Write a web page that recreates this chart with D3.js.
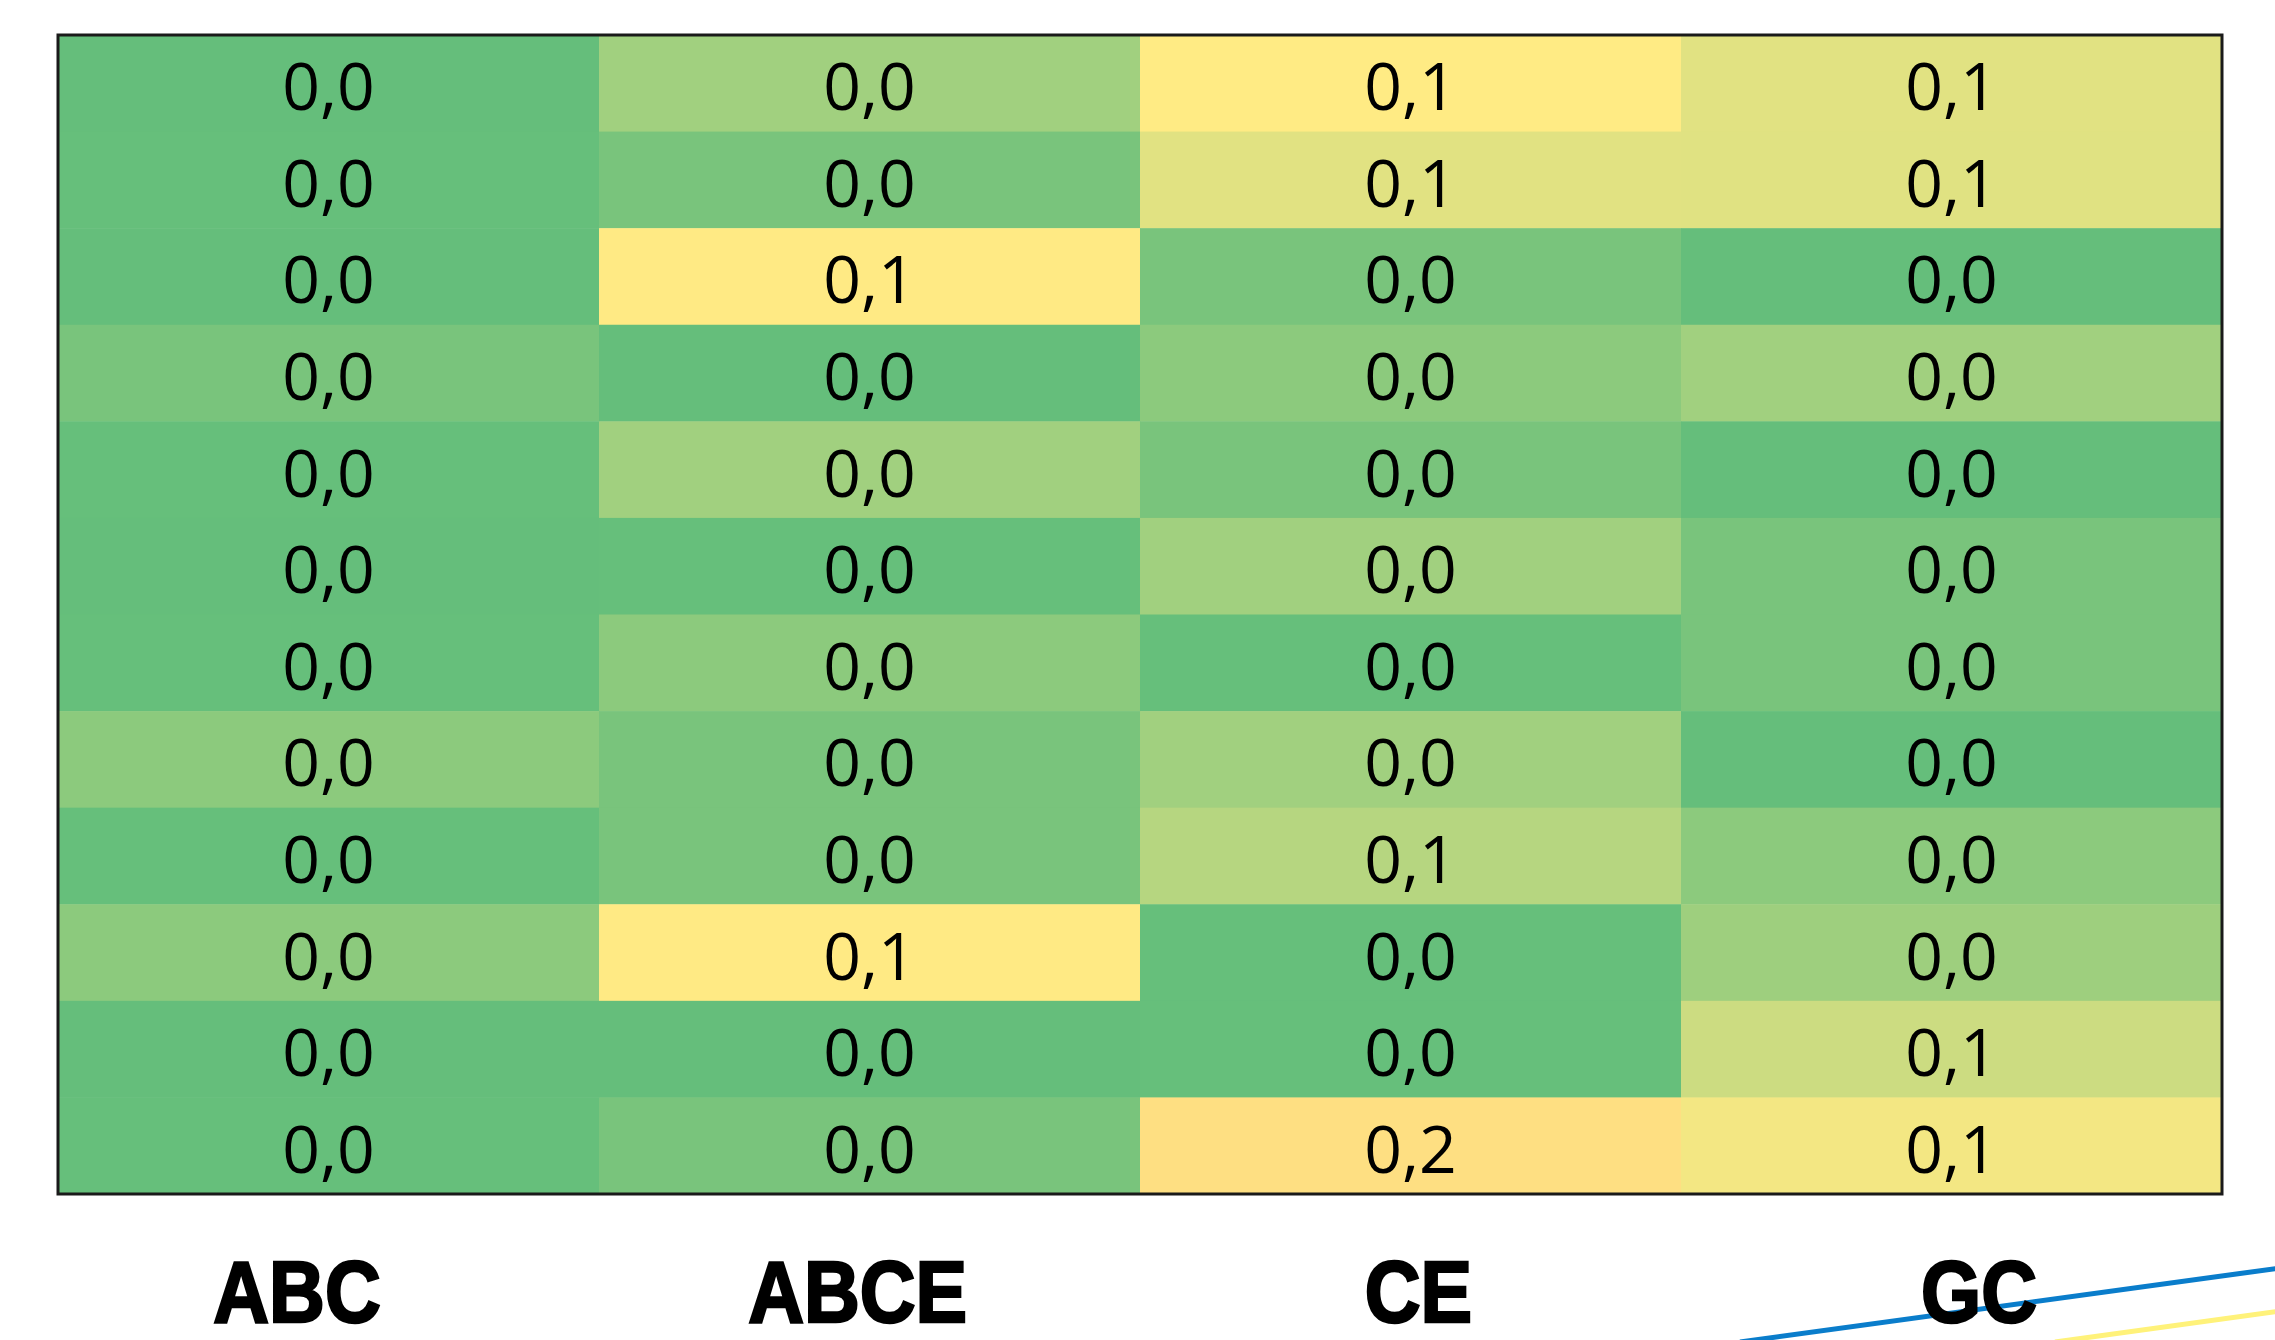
<!DOCTYPE html>
<html>
<head>
<meta charset="utf-8">
<script src="https://cdn.jsdelivr.net/npm/d3@7"></script>
<style>
  html, body { margin: 0; padding: 0; background: #fff; }
  svg { display: block; }
  .cell-label { font-family: "Open Sans", sans-serif; font-size: 66px; fill: #000; }
  .col-label { font-family: "Liberation Sans", Arial, sans-serif; font-weight: bold; font-size: 84px; fill: #000; stroke: #000; stroke-width: 2.5px; }
</style>
</head>
<body>
<script>
// columns and row count
var columns = ['ABC', 'ABCE', 'CE', 'GC']
var rows = d3.range(1, 13)

// underlying values per column (shown rounded to one decimal)
var abc  = [0.001, 0.002, 0.001, 0.014, 0.002, 0.001, 0.002, 0.026, 0.002, 0.026, 0.001, 0.002]
var abce = [0.040, 0.014, 0.105, 0.001, 0.040, 0.002, 0.026, 0.014, 0.014, 0.104, 0.001, 0.014]
var ce   = [0.102, 0.081, 0.014, 0.026, 0.014, 0.040, 0.002, 0.040, 0.053, 0.002, 0.002, 0.180]
var gc   = [0.081, 0.080, 0.001, 0.040, 0.001, 0.014, 0.014, 0.001, 0.026, 0.038, 0.067, 0.092]

var series = { ABC: abc, ABCE: abce, CE: ce, GC: gc }

var W = 2275, H = 1340
var svg = d3.select('body').append('svg')
    .attr('width', W)
    .attr('height', H)

var x = d3.scaleBand().domain(columns).range([58, 2222])
var y = d3.scaleBand().domain(rows).range([35, 1194])

// excel style green - yellow - red scale
var color = d3.scaleLinear()
    .domain([0, 0.1, 1])
    .range(['#63BE7B', '#FFEB84', '#F8696B'])
    .clamp(true)

var fmt = function(v) { return d3.format('.1f')(v).replace('.', ',') }

var cells = []
columns.forEach(function(c) {
  series[c].forEach(function(v, i) {
    cells.push({ col: c, row: rows[i], value: v })
  })
})

var g = svg.append('g')

g.selectAll('rect.cell')
  .data(cells)
  .enter().append('rect')
    .attr('class', 'cell')
    .attr('x', d => x(d.col))
    .attr('y', d => y(d.row))
    .attr('width', x.bandwidth() + 0.5)
    .attr('height', y.bandwidth() + 0.5)
    .attr('fill', d => color(d.value))

g.selectAll('text.cell-label')
  .data(cells)
  .enter().append('text')
    .attr('class', 'cell-label')
    .attr('x', d => x(d.col) + x.bandwidth() / 2)
    .attr('y', d => y(d.row) + y.bandwidth() / 2 + 27)
    .attr('text-anchor', 'middle')
    .text(d => fmt(d.value))

// table border
g.append('rect')
  .attr('x', x.range()[0])
  .attr('y', y.range()[0])
  .attr('width', x.range()[1] - x.range()[0])
  .attr('height', y.range()[1] - y.range()[0])
  .attr('fill', 'none')
  .attr('stroke', '#1a1a1a')
  .attr('stroke-width', 3)

// decorative stripes bottom right
var stripes = [
  { c: '#0A7DCB', x1: 1740, y1: 1342, x2: 2280, y2: 1268 },
  { c: '#FFF27A', x1: 2055, y1: 1342, x2: 2280, y2: 1311 }
]
svg.selectAll('line.stripe')
  .data(stripes)
  .enter().append('line')
    .attr('class', 'stripe')
    .attr('x1', d => d.x1).attr('y1', d => d.y1)
    .attr('x2', d => d.x2).attr('y2', d => d.y2)
    .attr('stroke', d => d.c)
    .attr('stroke-width', 5)

// column labels under the table
var lx = d3.scalePoint().domain(columns).range([297, 1979])
svg.selectAll('text.col-label')
  .data(columns)
  .enter().append('text')
    .attr('class', 'col-label')
    .attr('text-anchor', 'middle')
    .attr('transform', d => 'translate(' + lx(d) + ',1322) scale(0.92,1.04)')
    .text(d => d)
</script>
</body>
</html>
